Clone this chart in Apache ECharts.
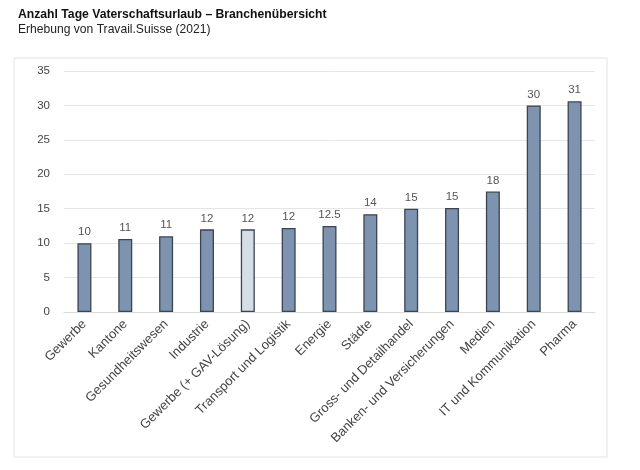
<!DOCTYPE html>
<html><head><meta charset="utf-8">
<script src="https://cdn.jsdelivr.net/npm/echarts@6/dist/echarts.min.js"></script>
<style>html,body{margin:0;padding:0;background:#fff}#c{width:640px;height:470px}</style>
</head><body><div id="c"></div>
<script>
const categories = ["Gewerbe","Kantone","Gesundheitswesen","Industrie","Gewerbe (+ GAV-Lösung)","Transport und Logistik","Energie","Städte","Gross- und Detailhandel","Banken- und Versicherungen","Medien","IT und Kommunikation","Pharma"];
const values = [10, 10.6, 11, 12, 12, 12.2, 12.5, 14.2, 15, 15.1, 17.5, 30, 30.6];
const valueLabels = ["10","11","11","12","12","12","12.5","14","15","15","18","30","31"];
const highlightIndex = 4;
const yTicks = [0,5,10,15,20,25,30,35];

const chart = echarts.init(document.getElementById('c'));
chart.setOption({
  animation: false,
  textStyle: {fontFamily: 'Liberation Sans, Arial, sans-serif'},
  title: {
    text: 'Anzahl Tage Vaterschaftsurlaub – Branchenübersicht',
    subtext: 'Erhebung von Travail.Suisse (2021)',
    left: 13, top: 4, itemGap: 3,
    textStyle: {fontSize: 12.2, fontWeight: 'bold', color: '#111', fontFamily: 'Liberation Sans, Arial'},
    subtextStyle: {fontSize: 12.1, color: '#222', fontFamily: 'Liberation Sans, Arial'}
  },
  graphic: [{type: 'rect', shape: {x: 14, y: 58, width: 593, height: 399}, style: {fill: 'none', stroke: '#e2e2e2', lineWidth: 1}, silent: true}],
  grid: {left: 64, right: 45, top: 71, bottom: 158},
  xAxis: {
    type: 'category', data: categories,
    axisLine: {show: true, lineStyle: {color: '#d9d9d9'}},
    axisTick: {show: false},
    axisLabel: {rotate: 45, interval: 0, fontSize: 13, color: '#444', margin: 10}
  },
  yAxis: {
    type: 'value', min: 0, max: 35, interval: 5,
    axisLabel: {fontSize: 11.5, color: '#444', margin: 14, formatter: v => yTicks.includes(v) ? String(v) : ''},
    splitLine: {lineStyle: {color: '#e6e6e6'}},
    axisLine: {show: false}, axisTick: {show: false}
  },
  series: [{
    type: 'bar', barWidth: 14,
    data: values.map((v, i) => ({value: v, itemStyle: {color: i === highlightIndex ? '#d5dde7' : '#7d93af'}})),
    itemStyle: {borderColor: '#3b4452', borderWidth: 1.3},
    label: {show: true, position: 'top', distance: 5, fontSize: 11.5, color: '#555', formatter: p => valueLabels[p.dataIndex]}
  }]
});
</script></body></html>
